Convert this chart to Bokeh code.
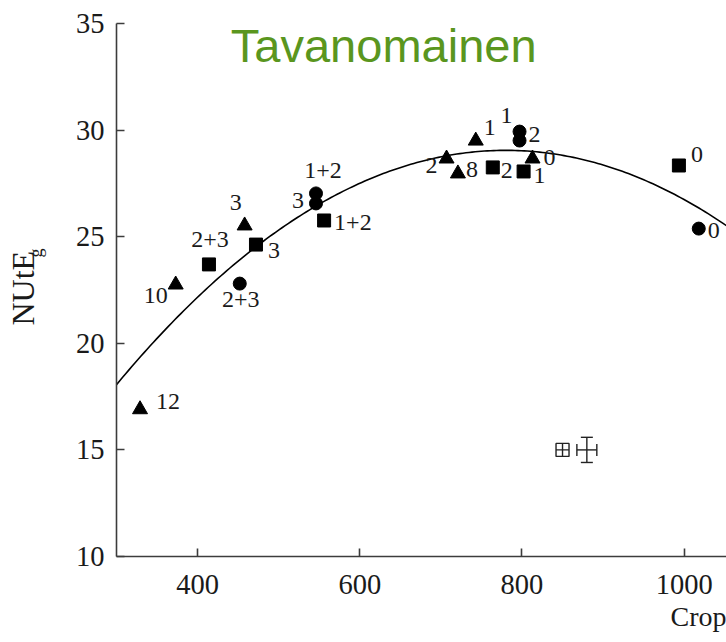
import math
from bokeh.plotting import figure
from bokeh.layouts import row
from bokeh.models import ColumnDataSource, FixedTicker, Label, Whisker, TeeHead, Range1d, Title
from bokeh.core.properties import value
from bokeh.embed import file_html
from bokeh.resources import INLINE

# ---------------- data ----------------
tri_x = [329, 373, 458, 707, 743, 721, 813]
tri_y = [16.9, 22.75, 25.52, 28.66, 29.5, 27.96, 28.66]
tri_lab = ["12", "10", "3", "2", "1", "8", "0"]

sq_x = [414, 472, 556, 764, 802, 993.5]
sq_y = [23.7, 24.63, 25.76, 28.25, 28.06, 28.34]
sq_lab = ["2+3", "3", "1+2", "2", "1", "0"]

ci_x = [452, 546, 546, 797, 797, 1018]
ci_y = [22.8, 27.03, 26.56, 29.93, 29.51, 25.38]
ci_lab = ["2+3", "1+2", "3", "1", "2", "0"]

# quadratic fit (vertex form)
fit_peak_x = 780.0
fit_peak_y = 29.05
fit_curv = -4.77e-5

# error symbols
lsd_box_x, lsd_box_y = 850.0, 15.0
err_x0, err_y0 = 880.0, 15.0
err_dx, err_dy = 12.3, 0.59

x_ticks = [400, 600, 800, 1000]
y_ticks = [10, 15, 20, 25, 30, 35]

title_text = "Tavanomainen"
ylabel_main = "NUtE"
ylabel_sub = "g"
xlabel_text = "Crop"

# ---------------- label styling (screen offsets) ----------------
tri_align = ["left", "right", "center", "right", "left", "left", "left"]
tri_dx = [16, -8, -9, -9, 8, 8, 11]
tri_dy = [-8, 11, -23, 7, -13, -4, -1]

sq_align = ["center", "left", "left", "left", "left", "left"]
sq_dx = [1, 12, 10, 8, 10, 12]
sq_dy = [-25, 6, 2, 3, 4, -11]

ci_align = ["center", "center", "right", "center", "left", "left"]
ci_dx = [1, 7, -12, -13, 9, 9]
ci_dy = [16, -23, -3, -16, -6, 2]

SERIF = "Liberation Serif"
INK = "#1a1a1a"
H = 640          # figure height
LW = 60          # width of the label strip on the left
TOP, FRAME_H = 23, 533
BOTTOM = H - TOP - FRAME_H

# ---------------- main plot ----------------
p = figure(
    frame_width=610, frame_height=FRAME_H,
    min_border_left=116 - LW, min_border_right=0, min_border_top=TOP, min_border_bottom=BOTTOM,
    x_range=Range1d(300, 1052.2), y_range=Range1d(10, 35),
    output_backend="svg", toolbar_location=None,
)
p.outline_line_color = None
p.xgrid.grid_line_color = None
p.ygrid.grid_line_color = None
p.background_fill_color = "white"
p.border_fill_color = "white"

for ax in (p.xaxis[0], p.yaxis[0]):
    ax.axis_line_color = "#3c3c3c"
    ax.axis_line_width = 1.6
    ax.major_tick_line_color = "#3c3c3c"
    ax.major_tick_line_width = 1.6
    ax.major_tick_in = 8
    ax.major_tick_out = 0
    ax.minor_tick_line_color = None
    ax.major_label_text_font = SERIF
    ax.major_label_text_font_size = "28.5px"
    ax.major_label_text_color = INK
p.xaxis.ticker = FixedTicker(ticks=x_ticks)
p.yaxis.ticker = FixedTicker(ticks=y_ticks)
p.xaxis.major_label_standoff = 18
p.yaxis.major_label_standoff = 12

# fitted curve
n = 200
cx = [300 + (1052.2 - 300) * i / (n - 1) for i in range(n)]
cy = [fit_peak_y + fit_curv * (x - fit_peak_x) ** 2 for x in cx]
p.line(cx, cy, line_color="black", line_width=1.6)

# markers
tri_src = ColumnDataSource(dict(x=tri_x, y=tri_y, t=tri_lab, a=tri_align, dx=tri_dx, dy=tri_dy))
sq_src = ColumnDataSource(dict(x=sq_x, y=sq_y, t=sq_lab, a=sq_align, dx=sq_dx, dy=sq_dy))
ci_src = ColumnDataSource(dict(x=ci_x, y=ci_y, t=ci_lab, a=ci_align, dx=ci_dx, dy=ci_dy))

p.scatter("x", "y", source=tri_src, marker="triangle", size=15, color="black")
p.scatter("x", "y", source=sq_src, marker="square", size=13, color="black")
p.scatter("x", "y", source=ci_src, marker="circle", size=13, color="black")

for src in (tri_src, sq_src, ci_src):
    p.text("x", "y", text="t", source=src, x_offset="dx", y_offset="dy",
           text_align="a", text_baseline="middle",
           text_font=value(SERIF), text_font_size="24px", text_color=INK)

# error symbols
p.scatter([lsd_box_x], [lsd_box_y], marker="square_cross", size=13,
          fill_color=None, line_color="#222222", line_width=1.4)
ev = ColumnDataSource(dict(base=[err_x0], lower=[err_y0 - err_dy], upper=[err_y0 + err_dy]))
eh = ColumnDataSource(dict(base=[err_y0], lower=[err_x0 - err_dx], upper=[err_x0 + err_dx]))
for src, dim in ((ev, "height"), (eh, "width")):
    p.add_layout(Whisker(source=src, base="base", lower="lower", upper="upper", dimension=dim,
                         line_color="#222222", line_width=1.4,
                         upper_head=TeeHead(size=12, line_color="#222222", line_width=1.4),
                         lower_head=TeeHead(size=12, line_color="#222222", line_width=1.4)))

# green title inside the frame
p.add_layout(Label(x=441, y=33.97, text=title_text, text_font="Liberation Sans",
                   text_font_size="47px", text_color="#5a961e", text_baseline="middle"))

# x label (cut off at the right edge in the reference)
p.add_layout(Title(text=xlabel_text, align="right", text_font=SERIF, text_font_size="28px",
                   text_font_style="normal", text_color=INK, standoff=5), "below")

# ---------------- y-axis label strip (NUtE with subscript g) ----------------
# the row aligns this strip's frame with the main frame (window y TOP .. TOP+FRAME_H);
# its y range is chosen so that data y = H - window y
lab = figure(width=LW, height=H, x_range=Range1d(0, LW),
             y_range=Range1d(H - TOP - FRAME_H, H - TOP),
             x_axis_location=None, y_axis_location=None, toolbar_location=None,
             output_backend="svg", min_border=0)
lab.min_border_left = lab.min_border_right = 0
lab.min_border_top = TOP
lab.min_border_bottom = BOTTOM
lab.outline_line_color = None
lab.grid.grid_line_color = None
lab.background_fill_color = "white"
lab.border_fill_color = "white"
lab.text([22], [H - 325], text=[ylabel_main], angle=math.pi / 2,
         text_align="left", text_baseline="middle",
         text_font=value(SERIF), text_font_size="32px", text_color=INK)
lab.text([35], [H - 257], text=[ylabel_sub], angle=math.pi / 2,
         text_align="left", text_baseline="middle",
         text_font=value(SERIF), text_font_size="18px", text_color=INK)

layout = row(lab, p, spacing=0)
open("out.html", "w").write(file_html(layout, INLINE))
